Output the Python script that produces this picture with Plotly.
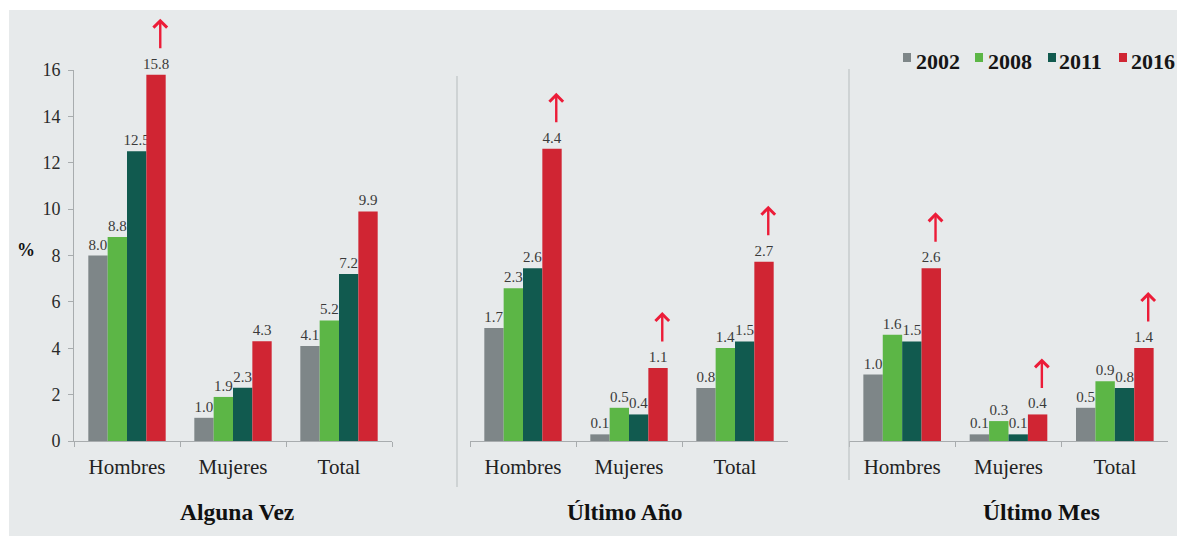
import plotly.graph_objects as go

W, H = 1177, 537

categories = ["Hombres", "Mujeres", "Total"]
years = ["2002", "2008", "2011", "2016"]
year_colors = ["#7e8688", "#5cb646", "#115a4f", "#d02533"]

# Prevalence (%) by sex, one list per survey year
alguna_vez = {"2002": [8.0, 1.0, 4.1], "2008": [8.8, 1.9, 5.2],
              "2011": [12.5, 2.3, 7.2], "2016": [15.8, 4.3, 9.9]}
ultimo_anio = {"2002": [1.7, 0.1, 0.8], "2008": [2.3, 0.5, 1.4],
               "2011": [2.6, 0.4, 1.5], "2016": [4.4, 1.1, 2.7]}
ultimo_mes = {"2002": [1.0, 0.1, 0.5], "2008": [1.6, 0.3, 0.9],
              "2011": [1.5, 0.1, 0.8], "2016": [2.6, 0.4, 1.4]}

panel_titles = ["Alguna Vez", "Último Año", "Último Mes"]
# categories whose 2016 value is flagged as a significant increase
increase_alguna = ["Hombres"]
increase_anio = ["Hombres", "Mujeres", "Total"]
increase_mes = ["Hombres", "Mujeres", "Total"]

y_ticks = [0, 2, 4, 6, 8, 10, 12, 14, 16]

FONT = "Liberation Serif"
BG = "#e7eaeb"
AXIS = "#a8acae"
ARROW = "#ec1c38"


def fx(px):
    return px / W


def fy(py):
    return 1 - py / H


panels = [
    (alguna_vez, increase_alguna, "x", "y", (74, 392), [0, 16]),
    (ultimo_anio, increase_anio, "x2", "y2", (470, 788), [0, 5.587]),
    (ultimo_mes, increase_mes, "x3", "y3", (849, 1168), [0, 5.587]),
]

fig = go.Figure()
bargap = 0.27

for data, _, xa, ya, _, _ in panels:
    for yr, col in zip(years, year_colors):
        fig.add_trace(go.Bar(
            x=categories, y=data[yr], name=yr, xaxis=xa, yaxis=ya,
            marker=dict(color=col, line=dict(width=0)),
            text=data[yr], texttemplate="%{y:.1f}", textposition="outside",
            textfont=dict(family=FONT, size=15, color="#3a3a3a"),
            constraintext="none", cliponaxis=False, showlegend=False,
            hoverinfo="skip",
        ))

layout_axes = {}
for i, (data, _, xa, ya, (x0, x1), yr) in enumerate(panels):
    sfx = "" if i == 0 else str(i + 1)
    layout_axes["xaxis" + sfx] = dict(
        domain=[fx(x0), fx(x1)], anchor=ya, type="category",
        showline=True, linecolor=AXIS, linewidth=1,
        ticks="outside", tickson="boundaries", ticklen=5, tickcolor=AXIS,
        tickfont=dict(family=FONT, size=21, color="#222222"),
        ticklabelstandoff=7, showgrid=False, zeroline=False, automargin=False,
    )
    if i == 0:
        layout_axes["yaxis"] = dict(
            domain=[fy(441), fy(70)], anchor="x", range=yr,
            tickvals=y_ticks, showline=True, linecolor=AXIS, linewidth=1,
            ticks="outside", ticklen=5, tickcolor=AXIS,
            tickfont=dict(family=FONT, size=18, color="#2a2a2a"),
            ticklabelstandoff=4, showgrid=False, zeroline=False, automargin=False,
        )
    else:
        layout_axes["yaxis" + sfx] = dict(
            domain=[fy(441), fy(70)], anchor=xa, range=yr, visible=False,
            showgrid=False, zeroline=False, automargin=False,
        )

shapes = [
    dict(type="rect", xref="paper", yref="paper", x0=fx(9), x1=1, y0=fy(536), y1=fy(10),
         fillcolor=BG, line=dict(width=0), layer="below"),
    dict(type="line", xref="paper", yref="paper", x0=fx(457), x1=fx(457), y0=fy(487), y1=fy(76),
         line=dict(color="#bfc3c5", width=1.2)),
    dict(type="line", xref="paper", yref="paper", x0=fx(849), x1=fx(849), y0=fy(480), y1=fy(69),
         line=dict(color="#bfc3c5", width=1.2)),
]

annotations = []

# red arrows above flagged 2016 bars
red_offset = 1.5 * (1 - bargap) / 4 + 0.04
for data, flagged, xa, ya, _, _ in panels:
    for cat in flagged:
        idx = categories.index(cat)
        annotations.append(dict(
            xref=xa, yref=ya, x=idx + red_offset, y=data["2016"][idx],
            yshift=56, ax=0, ay=31, text="", showarrow=True,
            arrowhead=4, arrowsize=1.1, arrowwidth=2.4, arrowcolor=ARROW,
        ))

# panel titles
for title, cx in zip(panel_titles, [237, 625, 1041]):
    annotations.append(dict(
        xref="paper", yref="paper", x=fx(cx), y=fy(512), text="<b>%s</b>" % title,
        showarrow=False, xanchor="center", yanchor="middle",
        font=dict(family=FONT, size=23.5, color="#111111"),
    ))

# y axis unit
annotations.append(dict(
    xref="paper", yref="paper", x=fx(26), y=fy(250), text="<b>%</b>", showarrow=False,
    xanchor="center", yanchor="middle", font=dict(family=FONT, size=18, color="#111111"),
))

# legend
legend_pos = [(903, 916), (975, 988), (1048, 1059), (1119, 1131)]
for yr, col, (sx, tx) in zip(years, year_colors, legend_pos):
    shapes.append(dict(type="rect", xref="paper", yref="paper",
                       x0=fx(sx), x1=fx(sx + 8), y0=fy(62), y1=fy(53),
                       fillcolor=col, line=dict(width=0)))
    annotations.append(dict(
        xref="paper", yref="paper", x=fx(tx - 2), y=fy(62), text="<b>%s</b>" % yr,
        showarrow=False, xanchor="left", yanchor="middle",
        font=dict(family=FONT, size=22, color="#161616"),
    ))

fig.update_layout(
    template="none",
    width=W, height=H, margin=dict(l=0, r=0, t=0, b=0, pad=0, autoexpand=False),
    paper_bgcolor="white", plot_bgcolor="rgba(0,0,0,0)",
    barmode="group", bargap=bargap, bargroupgap=0,
    shapes=shapes, annotations=annotations,
    font=dict(family=FONT),
    **layout_axes,
)

fig.write_html("out.html")
